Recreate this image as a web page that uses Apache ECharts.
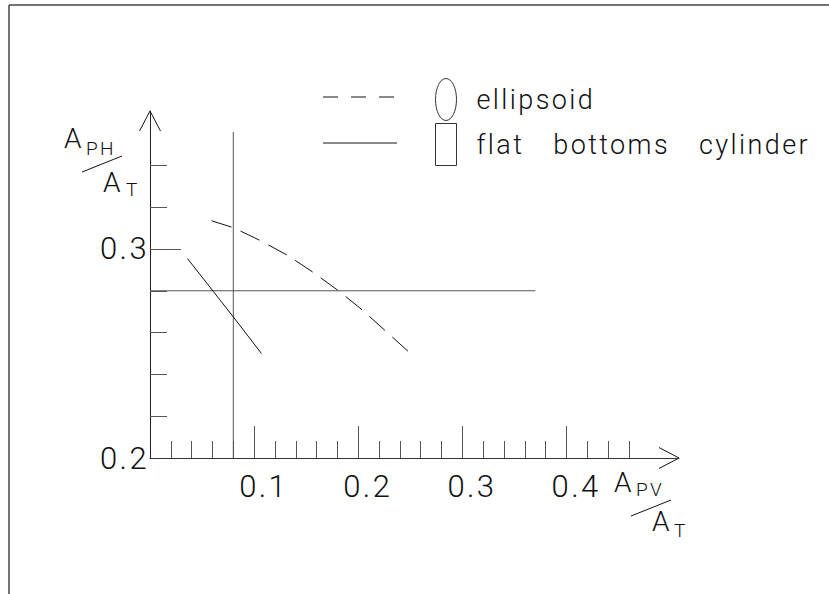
<!DOCTYPE html>
<html>
<head>
<meta charset="utf-8">
<script src="https://cdn.jsdelivr.net/npm/echarts@6/dist/echarts.min.js"></script>
<style>
html,body{margin:0;padding:0;background:#fff;}
#c{width:829px;height:594px;}
#c text{letter-spacing:2.4px;word-spacing:20px;}
</style>
</head>
<body>
<div id="c"></div>
<script>
// ---- data ----
const seriesNames = ['ellipsoid', 'flat bottoms cylinder'];
const ellipsoidData = [[0.059,0.3135],[0.080,0.3102],[0.106,0.3040],[0.132,0.2970],[0.157,0.2887],[0.181,0.2800],[0.204,0.2708],[0.227,0.2604],[0.250,0.2501]];
const cylinderData = [[0.036,0.2954],[0.080,0.2675],[0.107,0.2500]];
const refHorizontal = [[0,0.28],[0.37,0.28]];
const refVertical = [[0.08,0.2],[0.08,0.356]];
const xMajorTicks = [0.1,0.2,0.3,0.4];
const xMinorTicks = [0.02,0.04,0.06,0.08,0.12,0.14,0.16,0.18,0.22,0.24,0.26,0.28,0.32,0.34,0.36,0.38,0.42,0.44,0.46];
const xLabels = [0.1,0.2,0.3,0.4];
const yMajorTicks = [0.3];
const yMinorTicks = [0.22,0.24,0.26,0.28,0.32,0.34];
const yLabels = [0.2,0.3];
const xRange = [0, 0.508];
const yRange = [0.2, 0.366];

const FONT = 'Roboto';
const WEIGHT = 300;
const INK = '#111';
const chart = echarts.init(document.getElementById('c'), null, {renderer:'svg'});

const fmt = v => Number(v).toFixed(1);

function xAxisDef(ticks, len, withLine, labels){
  return {
    type:'value', min:xRange[0], max:xRange[1], position:'bottom',
    axisLine:{show:withLine, onZero:false, lineStyle:{color:'#333', width:1}},
    axisTick:{show:true, inside:true, length:len, customValues:ticks, lineStyle:{color:'#555', width:1}},
    axisLabel: labels ? {show:true, customValues:labels, formatter:fmt, margin:13, padding:[0,0,0,19],
      fontSize:31, fontFamily:FONT, fontWeight:WEIGHT, color:INK} : {show:false},
    splitLine:{show:false}
  };
}
function yAxisDef(ticks, len, withLine, labels){
  return {
    type:'value', min:yRange[0], max:yRange[1], position:'left',
    axisLine:{show:withLine, onZero:false, lineStyle:{color:'#222', width:1}},
    axisTick:{show:true, inside:true, length:len, customValues:ticks, lineStyle:{color:'#555', width:1}},
    axisLabel: labels ? {show:true, customValues:labels, formatter:fmt, margin:1,
      fontSize:31, fontFamily:FONT, fontWeight:WEIGHT, color:INK} : {show:false},
    splitLine:{show:false}
  };
}

const ellipsePath = 'path://M1,0 C1.552,0 2,0.895 2,2 C2,3.105 1.552,4 1,4 C0.448,4 0,3.105 0,2 C0,0.895 0.448,0 1,0 Z';

chart.setOption({
  animation:false,
  backgroundColor:'#fff',
  grid:{left:150, top:111, width:529, height:347, containLabel:false},
  xAxis:[xAxisDef(xMajorTicks, 32, true, xLabels), xAxisDef(xMinorTicks, 17, false, null)],
  yAxis:[yAxisDef(yMajorTicks, 31, true, yLabels), yAxisDef(yMinorTicks, 17, false, null)],
  legend:{
    orient:'vertical', left:435, top:78, padding:0, itemWidth:21, itemHeight:42, itemGap:2,
    symbolKeepAspect:false, selectedMode:false,
    data:[{name:seriesNames[0], icon:ellipsePath},{name:seriesNames[1], icon:'rect'}],
    itemStyle:{color:'rgba(0,0,0,0)', borderColor:'#333', borderWidth:1},
    textStyle:{fontSize:27, fontFamily:FONT, fontWeight:WEIGHT, color:INK, padding:[0,0,0,15]}
  },
  series:[
    {type:'line', name:seriesNames[0], data:ellipsoidData, symbol:'none', silent:true,
     lineStyle:{color:INK, width:1, type:[21,10]}, z:3},
    {type:'line', name:seriesNames[1], data:cylinderData, symbol:'none', silent:true,
     lineStyle:{color:INK, width:1}, z:3},
    {type:'line', name:'refH', data:refHorizontal, symbol:'none', silent:true,
     lineStyle:{color:'#555', width:1}, z:2},
    {type:'line', name:'refV', data:refVertical, symbol:'none', silent:true,
     lineStyle:{color:'#555', width:1}, z:2}
  ]
});

// decorations placed via the library's own coordinate conversion
const yTip = chart.convertToPixel({xAxisIndex:0, yAxisIndex:0}, [xRange[0], yRange[1]]);
const xTip = chart.convertToPixel({xAxisIndex:0, yAxisIndex:0}, [xRange[1], yRange[0]]);
const nameFont = {fontFamily:FONT, fontWeight:WEIGHT, fill:INK, verticalAlign:'middle', align:'left'};
function txt(t, x, y, size){ return {type:'text', x:x, y:y, silent:true, style:Object.assign({text:t, fontSize:size}, nameFont)}; }
function seg(x1,y1,x2,y2,dash,color,w){ return {type:'line', silent:true, shape:{x1,y1,x2,y2}, style:{stroke:color||INK, lineWidth:w||1, lineDash:dash||null}}; }

chart.setOption({
  graphic:[
    // page frame
    seg(9,5,829,5,null,'#444',1.5),
    seg(9,5,9,594,null,'#444',1.5),
    // axis arrows
    {type:'polyline', silent:true, shape:{points:[[yTip[0]-10.5,yTip[1]+20],[yTip[0],yTip[1]],[yTip[0]+10.5,yTip[1]+20]]}, style:{stroke:INK, fill:null, lineWidth:1}},
    {type:'polyline', silent:true, shape:{points:[[xTip[0]-20,xTip[1]-10.5],[xTip[0],xTip[1]],[xTip[0]-20,xTip[1]+10.5]]}, style:{stroke:INK, fill:null, lineWidth:1}},
    // y axis name  A_PH / A_T
    txt('A', 64, 138, 28), txt('PH', 86, 148, 19), seg(82,172,122,156),
    txt('A', 103, 182.5, 28), txt('T', 126, 189, 19),
    // x axis name  A_PV / A_T
    txt('A', 614, 482.5, 28), txt('PV', 636, 489, 19), seg(631,516,671,500),
    txt('A', 652, 521, 28), txt('T', 674, 530, 19),
    // legend line samples
    seg(323,97,397,97,[15,13]),
    seg(323,143,397,143)
  ]
});
</script>
</body>
</html>
